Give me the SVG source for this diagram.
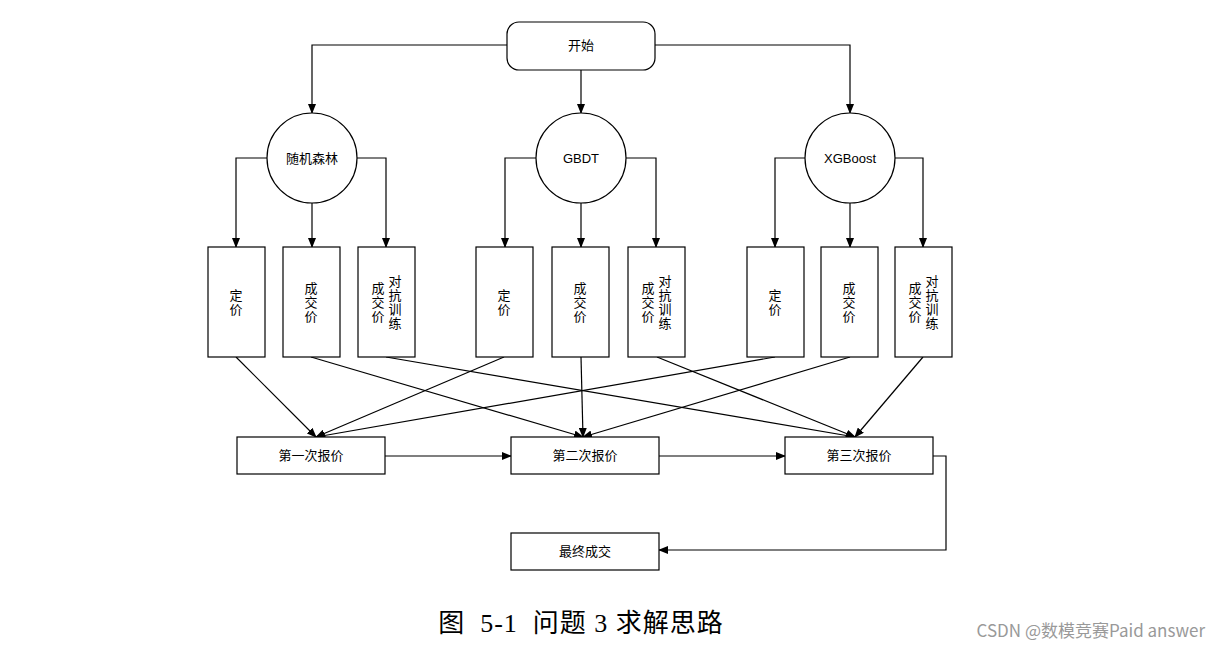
<svg xmlns="http://www.w3.org/2000/svg" width="1221" height="650" viewBox="0 0 1221 650">
<defs>
<marker id="a" markerWidth="10" markerHeight="8" refX="9" refY="4" orient="auto" markerUnits="userSpaceOnUse"><path d="M0,0 L10,4 L0,8 Z" fill="#000"/></marker>
<style>
.s{fill:#fff;stroke:#000;stroke-width:1.2}
.t{font-family:"Liberation Serif","Noto Sans CJK SC",serif;font-size:13px;fill:#000;text-anchor:middle}
.c line,.c polyline{fill:none;stroke:#000;stroke-width:1.2;marker-end:url(#a)}
</style>
</defs>
<rect width="1221" height="650" fill="#fff"/>
<g class="c">
<polyline points="507,45 312,45 312,113"/>
<line x1="581" y1="70" x2="581" y2="113"/>
<polyline points="655,45 850,45 850,113"/>
<polyline points="267,158 236,158 236,247"/>
<line x1="312" y1="203" x2="312" y2="247"/>
<polyline points="357,158 386,158 386,247"/>
<polyline points="536,158 505,158 505,247"/>
<line x1="581" y1="203" x2="581" y2="247"/>
<polyline points="626,158 656,158 656,247"/>
<polyline points="805,158 775,158 775,247"/>
<line x1="850" y1="203" x2="850" y2="247"/>
<polyline points="895,158 923,158 923,247"/>
<line x1="236" y1="357" x2="316" y2="437"/>
<line x1="311" y1="357" x2="583" y2="437"/>
<line x1="386" y1="357" x2="855" y2="437"/>
<line x1="504" y1="357" x2="316" y2="437"/>
<line x1="581" y1="357" x2="583" y2="437"/>
<line x1="657" y1="357" x2="855" y2="437"/>
<line x1="775" y1="357" x2="316" y2="437"/>
<line x1="850" y1="357" x2="583" y2="437"/>
<line x1="923" y1="357" x2="855" y2="437"/>
<line x1="385" y1="456" x2="511" y2="456"/>
<line x1="659" y1="456" x2="785" y2="456"/>
<polyline points="933,456 946,456 946,550 659,550"/>
</g>
<g id="start"><rect class="s" x="507" y="22" width="148" height="48" rx="12"/><text class="t" x="581" y="50">开始</text></g>
<g id="rf"><circle class="s" cx="312" cy="158" r="45"/><text class="t" x="312" y="163">随机森林</text></g>
<g id="gbdt"><circle class="s" cx="581" cy="158" r="45"/><text class="t" x="581" y="163" style="font-family:'Liberation Sans',sans-serif">GBDT</text></g>
<g id="xgb"><circle class="s" cx="850" cy="158" r="45"/><text class="t" x="850" y="163" style="font-family:'Liberation Sans',sans-serif">XGBoost</text></g>
<g id="rf1"><rect class="s" x="208" y="247" width="57" height="110"/><text class="t" x="236" y="300">定</text><text class="t" x="236" y="314">价</text></g>
<g id="rf2"><rect class="s" x="283" y="247" width="57" height="110"/><text class="t" x="311" y="293">成</text><text class="t" x="311" y="307">交</text><text class="t" x="311" y="321">价</text></g>
<g id="rf3"><rect class="s" x="358" y="247" width="57" height="110"/><text class="t" x="395" y="286">对</text><text class="t" x="395" y="300">抗</text><text class="t" x="395" y="314">训</text><text class="t" x="395" y="328">练</text><text class="t" x="378" y="293">成</text><text class="t" x="378" y="307">交</text><text class="t" x="378" y="321">价</text></g>
<g id="g1"><rect class="s" x="476" y="247" width="57" height="110"/><text class="t" x="504" y="300">定</text><text class="t" x="504" y="314">价</text></g>
<g id="g2"><rect class="s" x="552" y="247" width="57" height="110"/><text class="t" x="580" y="293">成</text><text class="t" x="580" y="307">交</text><text class="t" x="580" y="321">价</text></g>
<g id="g3"><rect class="s" x="628" y="247" width="57" height="110"/><text class="t" x="665" y="286">对</text><text class="t" x="665" y="300">抗</text><text class="t" x="665" y="314">训</text><text class="t" x="665" y="328">练</text><text class="t" x="648" y="293">成</text><text class="t" x="648" y="307">交</text><text class="t" x="648" y="321">价</text></g>
<g id="x1"><rect class="s" x="747" y="247" width="57" height="110"/><text class="t" x="775" y="300">定</text><text class="t" x="775" y="314">价</text></g>
<g id="x2"><rect class="s" x="821" y="247" width="57" height="110"/><text class="t" x="849" y="293">成</text><text class="t" x="849" y="307">交</text><text class="t" x="849" y="321">价</text></g>
<g id="x3"><rect class="s" x="895" y="247" width="57" height="110"/><text class="t" x="932" y="286">对</text><text class="t" x="932" y="300">抗</text><text class="t" x="932" y="314">训</text><text class="t" x="932" y="328">练</text><text class="t" x="915" y="293">成</text><text class="t" x="915" y="307">交</text><text class="t" x="915" y="321">价</text></g>
<g id="b1"><rect class="s" x="237" y="437" width="148" height="37"/><text class="t" x="311" y="460">第一次报价</text></g>
<g id="b2"><rect class="s" x="511" y="437" width="148" height="37"/><text class="t" x="585" y="460">第二次报价</text></g>
<g id="b3"><rect class="s" x="785" y="437" width="148" height="37"/><text class="t" x="859" y="460">第三次报价</text></g>
<g id="end"><rect class="s" x="511" y="533" width="148" height="37"/><text class="t" x="585" y="556">最终成交</text></g>
<text x="581" y="632" xml:space="preserve" style="font-family:'Liberation Serif','Noto Sans CJK SC',serif;font-size:26px;text-anchor:middle;letter-spacing:1px">图  5-1  问题 3 求解思路</text>
<text x="1205" y="637" style="font-family:'Noto Sans CJK SC',sans-serif;font-size:17px;text-anchor:end;fill:#999">CSDN @数模竞赛Paid answer</text>
</svg>
